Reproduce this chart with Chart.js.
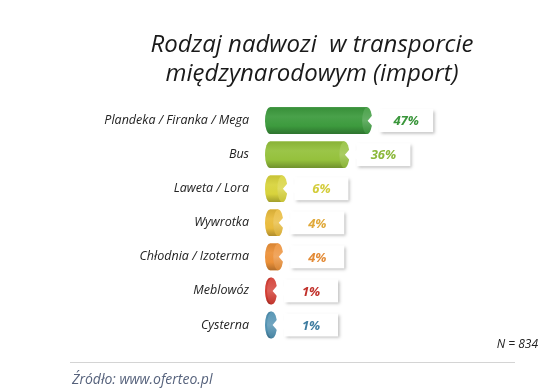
<!DOCTYPE html>
<html>
<head>
<meta charset="utf-8">
<script src="https://cdn.jsdelivr.net/npm/chart.js@4/dist/chart.umd.min.js"></script>
<style>
  html, body { margin: 0; padding: 0; background: #fff; }
  canvas { display: block; }
</style>
</head>
<body>
<canvas id="chart" width="554" height="390"></canvas>
<script>
const titleLines = ['Rodzaj nadwozi  w transporcie', 'międzynarodowym (import)'];
const categories = ['Plandeka / Firanka / Mega', 'Bus', 'Laweta / Lora', 'Wywrotka', 'Chłodnia / Izoterma', 'Meblowóz', 'Cysterna'];
const shares = [47, 36, 6, 4, 4, 1, 1];
const sampleNote = 'N = 834';
const sourceNote = 'Źródło: www.oferteo.pl';

const barColors = ['#3d9b3e', '#95c13c', '#d8d33c', '#e9bb3c', '#ec9139', '#d23a30', '#4d8fb0'];
const textColors = ['#3a963b', '#8bb83a', '#d3cc3a', '#e0a93a', '#e38b37', '#c1302a', '#3e7ca0'];

const FONT = '"Open Sans", "DejaVu Sans", sans-serif';

function shade(hex, amt){
  const n = parseInt(hex.slice(1), 16);
  let r = n >> 16, g = (n >> 8) & 255, b = n & 255;
  const t = amt < 0 ? 0 : 255, p = Math.abs(amt);
  r = Math.round(r + (t - r) * p);
  g = Math.round(g + (t - g) * p);
  b = Math.round(b + (t - b) * p);
  return 'rgb(' + r + ',' + g + ',' + b + ')';
}

// cylinder look + value boxes, drawn on top of the library bars
const cylinders = {
  id: 'cylinders',
  afterDatasetsDraw(chart){
    const ctx = chart.ctx;
    const meta = chart.getDatasetMeta(0);
    meta.data.forEach((bar, i) => {
      const {x, y, base, height} = bar.getProps(['x', 'y', 'base', 'height'], true);
      const c = barColors[i];
      const ry = height / 2, rx = 5;
      const top = y - ry;

      const g = ctx.createLinearGradient(0, top, 0, top + height);
      g.addColorStop(0, shade(c, -0.08));
      g.addColorStop(0.35, shade(c, 0.06));
      g.addColorStop(0.7, c);
      g.addColorStop(1, shade(c, -0.25));

      ctx.save();
      ctx.fillStyle = g;
      ctx.beginPath();
      ctx.ellipse(base, y, rx, ry, 0, Math.PI / 2, Math.PI * 1.5);
      ctx.lineTo(x, top);
      ctx.lineTo(x, top + height);
      ctx.closePath();
      ctx.fill();

      // end face
      const fg = ctx.createLinearGradient(0, top, 0, top + height);
      fg.addColorStop(0, shade(c, 0.08));
      fg.addColorStop(0.5, shade(c, 0.2));
      fg.addColorStop(1, shade(c, -0.08));
      ctx.fillStyle = fg;
      ctx.beginPath();
      ctx.ellipse(x, y, rx, ry, 0, 0, Math.PI * 2);
      ctx.fill();

      // notch
      ctx.fillStyle = '#fff';
      ctx.beginPath();
      ctx.moveTo(x + 0.5, y);
      ctx.lineTo(x + rx + 1, y - height * 0.24);
      ctx.lineTo(x + rx + 1, y + height * 0.24);
      ctx.closePath();
      ctx.fill();

      // value box
      const bx = x + rx + 7, bw = 54, bh = 23, by = y - bh / 2;
      ctx.shadowColor = 'rgba(0,0,0,0.28)';
      ctx.shadowBlur = 3;
      ctx.shadowOffsetX = 2;
      ctx.shadowOffsetY = 2;
      ctx.fillStyle = '#fff';
      ctx.fillRect(bx, by, bw, bh);
      ctx.shadowColor = 'transparent';
      ctx.beginPath();
      ctx.moveTo(bx + 1, y - 5);
      ctx.lineTo(bx - 5, y);
      ctx.lineTo(bx + 1, y + 5);
      ctx.closePath();
      ctx.fill();

      ctx.fillStyle = textColors[i];
      ctx.font = 'italic bold 13px ' + FONT;
      ctx.textAlign = 'center';
      ctx.textBaseline = 'middle';
      ctx.fillText(shares[i] + '%', bx + bw / 2, y + 1);
      ctx.restore();
    });
  },
  afterDraw(chart){
    const ctx = chart.ctx;
    ctx.save();
    ctx.fillStyle = '#222';
    ctx.font = 'italic 12px ' + FONT;
    ctx.textAlign = 'right';
    ctx.textBaseline = 'alphabetic';
    ctx.fillText(sampleNote, 538, 348);

    ctx.strokeStyle = '#d4d4d4';
    ctx.lineWidth = 1;
    ctx.beginPath();
    ctx.moveTo(70, 362.5);
    ctx.lineTo(515, 362.5);
    ctx.stroke();

    ctx.fillStyle = '#56627c';
    ctx.font = 'italic 14px ' + FONT;
    ctx.textAlign = 'left';
    ctx.fillText(sourceNote, 72, 384);
    ctx.restore();
  }
};

new Chart(document.getElementById('chart'), {
  type: 'bar',
  data: {
    labels: categories,
    datasets: [{
      data: shares,
      backgroundColor: barColors,
      borderWidth: 0,
      barPercentage: 0.78,
      categoryPercentage: 1
    }]
  },
  options: {
    indexAxis: 'y',
    responsive: false,
    animation: false,
    devicePixelRatio: 1,
    layout: { padding: { left: 79, right: 9, top: 0, bottom: 48 } },
    plugins: {
      legend: { display: false },
      tooltip: { enabled: false },
      title: {
        display: true,
        text: titleLines,
        color: '#1a1a1a',
        font: { family: FONT, size: 24, style: 'italic', weight: 'normal', lineHeight: 1.2 },
        padding: { top: 31, bottom: 15 }
      }
    },
    scales: {
      x: { display: false, min: 0, max: 133 },
      y: {
        grid: { display: false },
        border: { display: false },
        ticks: {
          color: '#222',
          padding: 13,
          font: { family: FONT, size: 12.5, style: 'italic' }
        },
        afterFit(scale){ scale.width = 191; }
      }
    }
  },
  plugins: [cylinders]
});
</script>
</body>
</html>
